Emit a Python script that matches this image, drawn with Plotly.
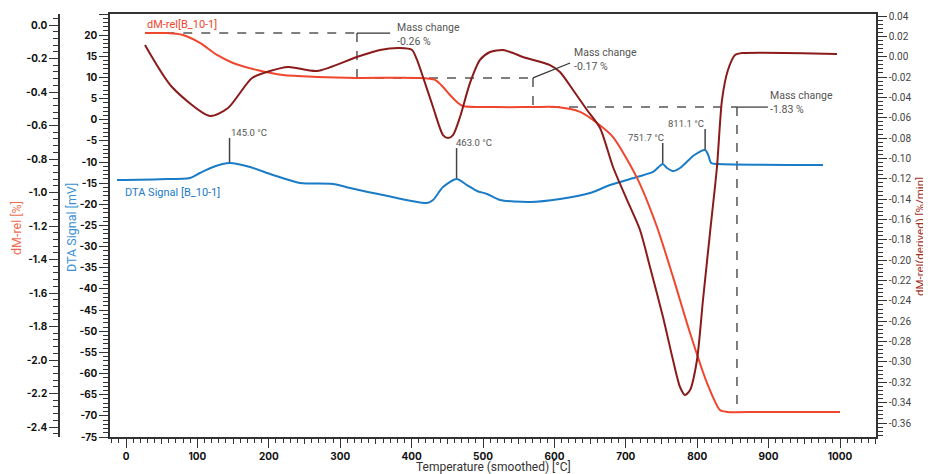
import plotly.graph_objects as go
import numpy as np

# ---------------- data ----------------
# dM-rel [%] (left outer axis)
T_dm = [26.6, 57.4, 79.8, 103.6, 127.5, 149.9, 183.5, 219.9, 267.5, 323.5, 407.6,
        432.8, 444.0, 453.8, 463.6, 472.0, 519.6, 570.0, 603.6, 635.9, 659.7,
        682.1, 715.7, 743.7, 766.1, 790.0, 813.7, 831.9, 841.7, 888.0, 1000.0]
dm_rel = [-0.048, -0.048, -0.060, -0.107, -0.179, -0.227, -0.269, -0.299, -0.310, -0.316, -0.316,
          -0.328, -0.370, -0.418, -0.460, -0.484, -0.490, -0.490, -0.490, -0.519, -0.585,
          -0.669, -0.913, -1.206, -1.504, -1.839, -2.137, -2.299, -2.310, -2.310, -2.310]

# DTA Signal [mV]
T_dta = [-12.6, 47.6, 89.6, 103.6, 121.8, 145.0, 173.7, 205.9, 243.7, 289.9, 313.7,
         359.9, 421.6, 430.0, 444.0, 463.0, 477.6, 491.6, 505.6, 523.8, 565.8, 607.8,
         649.9, 677.9, 715.7, 738.1, 751.7, 757.7, 766.1, 775.9, 796.0, 811.1,
         815.5, 819.5, 829.0, 976.2]
dta = [-14.24, -14.05, -13.77, -12.59, -11.17, -10.22, -11.17, -13.06, -14.95, -15.19, -16.13,
       -17.79, -19.68, -18.97, -15.90, -14.01, -15.43, -16.84, -17.55, -18.97, -19.44, -18.74,
       -17.32, -15.43, -13.53, -12.35, -10.46, -11.41, -12.12, -11.41, -8.33, -7.15,
       -8.33, -10.22, -10.46, -10.70]

# dM-rel(derived) [%/min] (right axis)
T_der = [26.6, 64.4, 117.6, 142.9, 176.5, 201.7, 226.9, 267.5, 323.5, 355.7, 383.8, 400.6,
         407.6, 416.0, 430.0, 444.0, 451.0, 458.0, 467.8, 481.8, 495.8, 509.8, 528.0,
         542.0, 556.0, 593.8, 607.8, 626.1, 645.7, 663.9, 682.1, 701.7, 719.9, 733.9,
         752.1, 766.1, 775.9, 783.0, 790.0, 799.7, 808.1, 817.9, 827.7, 834.7, 843.1,
         853.0, 864.1, 995.8]
dm_der = [0.0115, -0.0298, -0.0583, -0.0504, -0.0209, -0.0141, -0.0101, -0.0141, -0.0003,
          0.0066, 0.0085, 0.0066, -0.0032, -0.0200, -0.0494, -0.0770, -0.0799, -0.0770,
          -0.0593, -0.0258, -0.0032, 0.0046, 0.0066, 0.0036, -0.0003, -0.0082, -0.0150,
          -0.0327, -0.0524, -0.0701, -0.1084, -0.1408, -0.1703, -0.2067, -0.2558, -0.2981,
          -0.3246, -0.3325, -0.3276, -0.2981, -0.2391, -0.1733, -0.1084, -0.0426, -0.0131,
          0.0017, 0.0036, 0.0027]

# Peak labels (DTA)
peak_T = [145.0, 463.0, 751.7, 811.1]
peak_labels = ["145.0 °C", "463.0 °C", "751.7 °C", "811.1 °C"]

# Mass change steps
mass_start_T = 55.0
mass_step_T = [323.5, 570.0, 855.7]
mass_levels = [-0.048, -0.316, -0.490, -2.310]
mass_labels = ["-0.26 %", "-0.17 %", "-1.83 %"]

# Tick labels
x_ticks = list(range(0, 1001, 100))
dta_ticks = list(range(-75, 26, 5))
dm_ticks = [round(-0.2 * i, 1) for i in range(13)]
der_ticks = [round(0.04 - 0.02 * i, 2) for i in range(21)]

# ---------------- styles / geometry ----------------
OFF = 8                      # page body margin in the browser
W, H = 931 - OFF, 474 - OFF
L_PX, R_PX, T_PX, B_PX = 110, 876, 14, 437   # plot frame in window pixels
FONT = "Inter"
TFONT = "Roboto"
AX = "#333333"
RED = "#F0462D"
DARK = "#8B1A1A"
BLUE = "#1A7BC6"
GREY = "#555555"


def fmt(v, d):
    s = f"{v:.{d}f}"
    if float(s) == 0:
        s = s.lstrip("-")
    return s


def pxx(p):
    return (p - OFF) / W


def pyy(p):
    return (B_PX - p) / (B_PX - T_PX)


fig = go.Figure()
fig.add_trace(go.Scatter(x=T_der, y=dm_der, yaxis="y3", mode="lines",
                         line=dict(color=DARK, width=2, shape="spline", smoothing=0.7),
                         hoverinfo="skip", showlegend=False))
fig.add_trace(go.Scatter(x=T_dm, y=dm_rel, yaxis="y2", mode="lines",
                         line=dict(color=RED, width=2, shape="spline", smoothing=0.7),
                         hoverinfo="skip", showlegend=False))
fig.add_trace(go.Scatter(x=T_dta, y=dta, yaxis="y", mode="lines",
                         line=dict(color=BLUE, width=2, shape="spline", smoothing=0.7),
                         hoverinfo="skip", showlegend=False))
# helper trace for the 50-degree tick axis
fig.add_trace(go.Scatter(x=[0, 1000], y=[None, None], xaxis="x2", yaxis="y",
                         mode="lines", hoverinfo="skip", showlegend=False))

xr = [(L_PX - 126) / 0.714, (R_PX - 126) / 0.714]
tick_font_bold = dict(family=FONT, size=10, color="#111111", weight="bold")

fig.update_layout(
    width=W, height=H, template="none",
    paper_bgcolor="white", plot_bgcolor="white",
    margin=dict(l=0, r=0, t=T_PX - OFF, b=H - (B_PX - OFF)),
    showlegend=False,
    xaxis=dict(domain=[pxx(L_PX), pxx(R_PX)], range=xr, anchor="y",
               tickmode="array", tickvals=x_ticks, ticktext=[str(v) for v in x_ticks],
               ticks="outside", ticklen=9, tickwidth=1, tickcolor=AX,
               minor=dict(tickmode="linear", tick0=0, dtick=10, ticks="outside", ticklen=4,
                          tickcolor=AX, tickwidth=1, showgrid=False),
               showline=True, linecolor=AX, linewidth=1.5, mirror=True,
               showgrid=False, zeroline=False, tickfont=tick_font_bold, automargin=False),
    xaxis2=dict(overlaying="x", range=xr, anchor="y", side="bottom",
                tickmode="linear", tick0=0, dtick=50, ticks="outside", ticklen=6,
                tickcolor=AX, showticklabels=False, showline=False, showgrid=False,
                zeroline=False, automargin=False),
    yaxis=dict(range=[-75, 25], anchor="x", side="left",
               tickmode="array", tickvals=dta_ticks, ticktext=[str(v) for v in dta_ticks],
               ticks="outside", ticklen=9, tickwidth=1, tickcolor=AX,
               minor=dict(tickmode="linear", tick0=0, dtick=1, ticks="outside", ticklen=5,
                          tickcolor=AX, tickwidth=1, showgrid=False),
               showline=True, linecolor=AX, linewidth=1.5,
               showgrid=False, zeroline=False, tickfont=tick_font_bold, automargin=False),
    yaxis2=dict(range=[-(B_PX - 25) / 167.5, (25 - T_PX) / 167.5], overlaying="y",
                anchor="free", position=pxx(59), side="left",
                tickmode="array", tickvals=dm_ticks, ticktext=[fmt(v, 1) for v in dm_ticks],
                ticks="outside", ticklen=9, tickwidth=1, tickcolor=AX,
                minor=dict(tickmode="linear", tick0=0, dtick=0.04, ticks="outside", ticklen=5,
                           tickcolor=AX, tickwidth=1, showgrid=False),
                showline=True, linecolor=AX, linewidth=1.5,
                showgrid=False, zeroline=False, tickfont=tick_font_bold, automargin=False),
    yaxis3=dict(range=[0.04 - (B_PX - 16) / 1017.5, 0.04 + (16 - T_PX) / 1017.5],
                overlaying="y", anchor="x", side="right",
                tickmode="array", tickvals=der_ticks, ticktext=[fmt(v, 2) for v in der_ticks],
                ticks="outside", ticklen=9, tickwidth=1, tickcolor=AX,
                minor=dict(tickmode="linear", tick0=0, dtick=0.004, ticks="outside", ticklen=5,
                           tickcolor=AX, tickwidth=1, showgrid=False),
                showline=True, linecolor=AX, linewidth=1.5,
                showgrid=False, zeroline=False,
                tickfont=dict(family=TFONT, size=10, color="#444444"), automargin=False),
)

shapes = []
ann = []
dash = dict(color="#555555", width=1.5, dash="dash")
solid = dict(color="#333333", width=1.2)

# mass change constructions
starts = [mass_start_T] + mass_step_T[:-1]
for i, (t0, ts) in enumerate(zip(starts, mass_step_T)):
    shapes.append(dict(type="line", xref="x", yref="y2", x0=t0, x1=ts,
                       y0=mass_levels[i], y1=mass_levels[i], line=dash, layer="below"))
    shapes.append(dict(type="line", xref="x", yref="y2", x0=ts, x1=ts,
                       y0=mass_levels[i], y1=mass_levels[i + 1], line=dash, layer="below"))

leader_end = [(370.0, -0.048), (622.0, -0.227), (899.0, -0.490)]
text_pos = [(378.0, -0.054), (626.0, -0.206), (900.6, -0.463)]
for i in range(3):
    shapes.append(dict(type="line", xref="x", yref="y2", x0=mass_step_T[i], y0=mass_levels[i],
                       x1=leader_end[i][0], y1=leader_end[i][1], line=solid))
    tx, ty = text_pos[i]
    ann.append(dict(x=tx, y=ty, xref="x", yref="y2",
                    text="Mass change<br>" + mass_labels[i], align="left",
                    showarrow=False, xanchor="left", yanchor="middle", borderpad=0,
                    font=dict(family=TFONT, size=10.5, color=GREY)))

# peak markers
peak_top = [-4.3, -6.7, -5.5, -2.2]
peak_anchor = ["left", "left", "right", "right"]
peak_dx = [-1.0, -4.0, 4.0, 1.0]
for t, lab, top, xa, dx in zip(peak_T, peak_labels, peak_top, peak_anchor, peak_dx):
    yb = float(np.interp(t, T_dta, dta))
    shapes.append(dict(type="line", xref="x", yref="y", x0=t, x1=t, y0=yb + 0.2, y1=top,
                       line=dict(color="#444444", width=1.5)))
    ann.append(dict(x=t + dx, y=top, xref="x", yref="y", text=lab, showarrow=False,
                    xanchor=xa, yanchor="bottom", yshift=-2,
                    font=dict(family=TFONT, size=9.5, color=GREY)))

# series labels
ann.append(dict(x=26.6, y=0.004, xref="x", yref="y2", text="dM-rel[B_10-1]", showarrow=False,
                xanchor="left", yanchor="middle", font=dict(family=TFONT, size=11, color=RED)))
ann.append(dict(x=-4.2, y=-17.3, xref="x", yref="y", text="DTA Signal [B_10-1]", showarrow=False,
                xanchor="left", yanchor="middle", font=dict(family=TFONT, size=11, color=BLUE)))

# axis titles
ann.append(dict(x=pxx(16), y=pyy(228), xref="paper", yref="paper", text="dM-rel [%]",
                showarrow=False, textangle=-90, xanchor="center", yanchor="middle",
                font=dict(family=TFONT, size=12.5, color="#F26B50")))
ann.append(dict(x=pxx(71), y=pyy(228), xref="paper", yref="paper", text="DTA Signal [mV]",
                showarrow=False, textangle=-90, xanchor="center", yanchor="middle",
                font=dict(family=TFONT, size=12.5, color="#3A8FD3")))
ann.append(dict(x=pxx(920), y=pyy(237), xref="paper", yref="paper", text="dM-rel(derived) [%/min]",
                showarrow=False, textangle=-90, xanchor="center", yanchor="middle", borderpad=0,
                font=dict(family=TFONT, size=11.5, color="#A0302A")))
ann.append(dict(x=pxx(493), y=pyy(467), xref="paper", yref="paper", text="Temperature (smoothed) [°C]",
                showarrow=False, xanchor="center", yanchor="middle",
                font=dict(family=TFONT, size=12, color="#333333")))

fig.update_layout(shapes=shapes, annotations=ann)
fig.write_html("out.html")
